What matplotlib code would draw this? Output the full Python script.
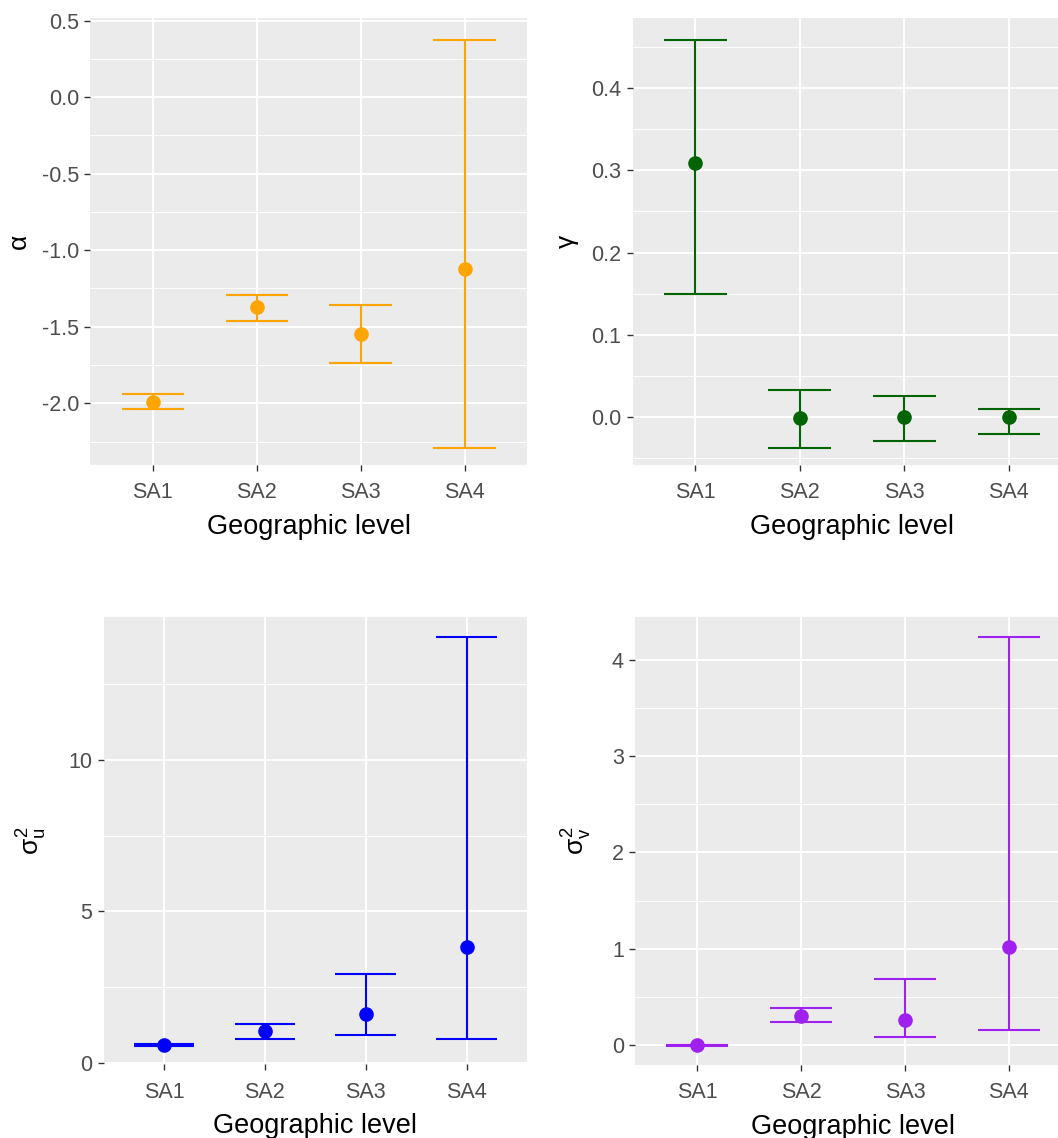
import numpy as np
import matplotlib
matplotlib.use("Agg")
import matplotlib.pyplot as plt
from matplotlib.ticker import MultipleLocator, FormatStrFormatter

plt.rcParams['font.family'] = ['Liberation Sans', 'DejaVu Sans']
plt.rcParams['axes.unicode_minus'] = False
plt.rcParams['mathtext.fontset'] = 'custom'
plt.rcParams['mathtext.rm'] = 'Liberation Sans'
plt.rcParams['mathtext.it'] = 'Liberation Sans'
plt.rcParams['mathtext.bf'] = 'Liberation Sans:bold'

categories = ["SA1", "SA2", "SA3", "SA4"]

alpha_mean = [-1.99, -1.37, -1.55, -1.12]
alpha_low = [-2.04, -1.46, -1.74, -2.29]
alpha_high = [-1.94, -1.29, -1.36, 0.375]

gamma_mean = [0.309, -0.002, 0.0, 0.0]
gamma_low = [0.149, -0.038, -0.029, -0.021]
gamma_high = [0.459, 0.033, 0.025, 0.009]

su_mean = [0.58, 1.04, 1.59, 3.82]
su_low = [0.56, 0.77, 0.90, 0.77]
su_high = [0.62, 1.29, 2.93, 14.08]

sv_mean = [0.0, 0.30, 0.26, 1.02]
sv_low = [-0.005, 0.244, 0.083, 0.158]
sv_high = [0.005, 0.383, 0.684, 4.24]

W, H = 1058, 1138
fig = plt.figure(figsize=(W / 100, H / 100), dpi=100)


def add_ax(l, r, t, b):
    return fig.add_axes([l / W, 1 - b / H, (r - l) / W, (b - t) / H])


panels = [
    dict(box=(90.4, 527, 17.9, 465), mean=alpha_mean, low=alpha_low, high=alpha_high,
         color="#FFA500", ylim=(-2.403, 0.517), major=0.5, minor=0.25, fmt="%.1f",
         label="α", lx=19),
    dict(box=(632.5, 1071.6, 17.9, 465), mean=gamma_mean, low=gamma_low, high=gamma_high,
         color="#006400", ylim=(-0.0586, 0.4855), major=0.1, minor=0.05, fmt="%.1f",
         label="γ", lx=567),
    dict(box=(103.5, 527, 617, 1064.4), mean=su_mean, low=su_low, high=su_high,
         color="#0000FF", ylim=(-0.06, 14.73), major=5, minor=2.5, fmt="%d",
         label=r"$\sigma_u^2$", lx=32),
    dict(box=(635, 1071, 617, 1065), mean=sv_mean, low=sv_low, high=sv_high,
         color="#A020F0", ylim=(-0.207, 4.443), major=1, minor=0.5, fmt="%d",
         label=r"$\sigma_v^2$", lx=577),
]

pos = np.arange(len(categories))
for p in panels:
    l, r, t, b = p["box"]
    ax = add_ax(l, r, t, b)
    ax.set_facecolor("#EBEBEB")
    for s in ax.spines.values():
        s.set_visible(False)
    ax.set_xlim(-0.6, len(categories) - 0.4)
    ax.set_ylim(*p["ylim"])
    ax.yaxis.set_major_locator(MultipleLocator(p["major"]))
    ax.yaxis.set_minor_locator(MultipleLocator(p["minor"]))
    ax.yaxis.set_major_formatter(FormatStrFormatter(p["fmt"]))
    ax.set_xticks(pos)
    ax.set_xticklabels(categories)
    ax.grid(which="major", color="white", lw=1.4, zorder=0)
    ax.grid(which="minor", axis="y", color="white", lw=0.7, zorder=0)
    ax.set_axisbelow(True)
    ax.tick_params(which="major", length=4.5, width=1.0, color="#333333",
                   labelsize=15.5, labelcolor="#4D4D4D", pad=3.5)
    ax.tick_params(axis="x", which="major", pad=8)
    ax.tick_params(which="minor", length=0)
    c = p["color"]
    ax.vlines(pos, p["low"], p["high"], color=c, lw=1.5, zorder=3)
    ax.hlines(p["low"], pos - 0.3, pos + 0.3, color=c, lw=1.5, zorder=3)
    ax.hlines(p["high"], pos - 0.3, pos + 0.3, color=c, lw=1.5, zorder=3)
    ax.plot(pos, p["mean"], "o", color=c, ms=9.5, zorder=4)
    ax.set_xlabel("Geographic level", fontsize=19.5, color="black", labelpad=7.5)
    fig.text(p["lx"] / W, 1 - ((t + b) / 2) / H, p["label"], rotation=90,
             ha="center", va="center", fontsize=19, color="black")

fig.savefig("out.png", dpi=100)
